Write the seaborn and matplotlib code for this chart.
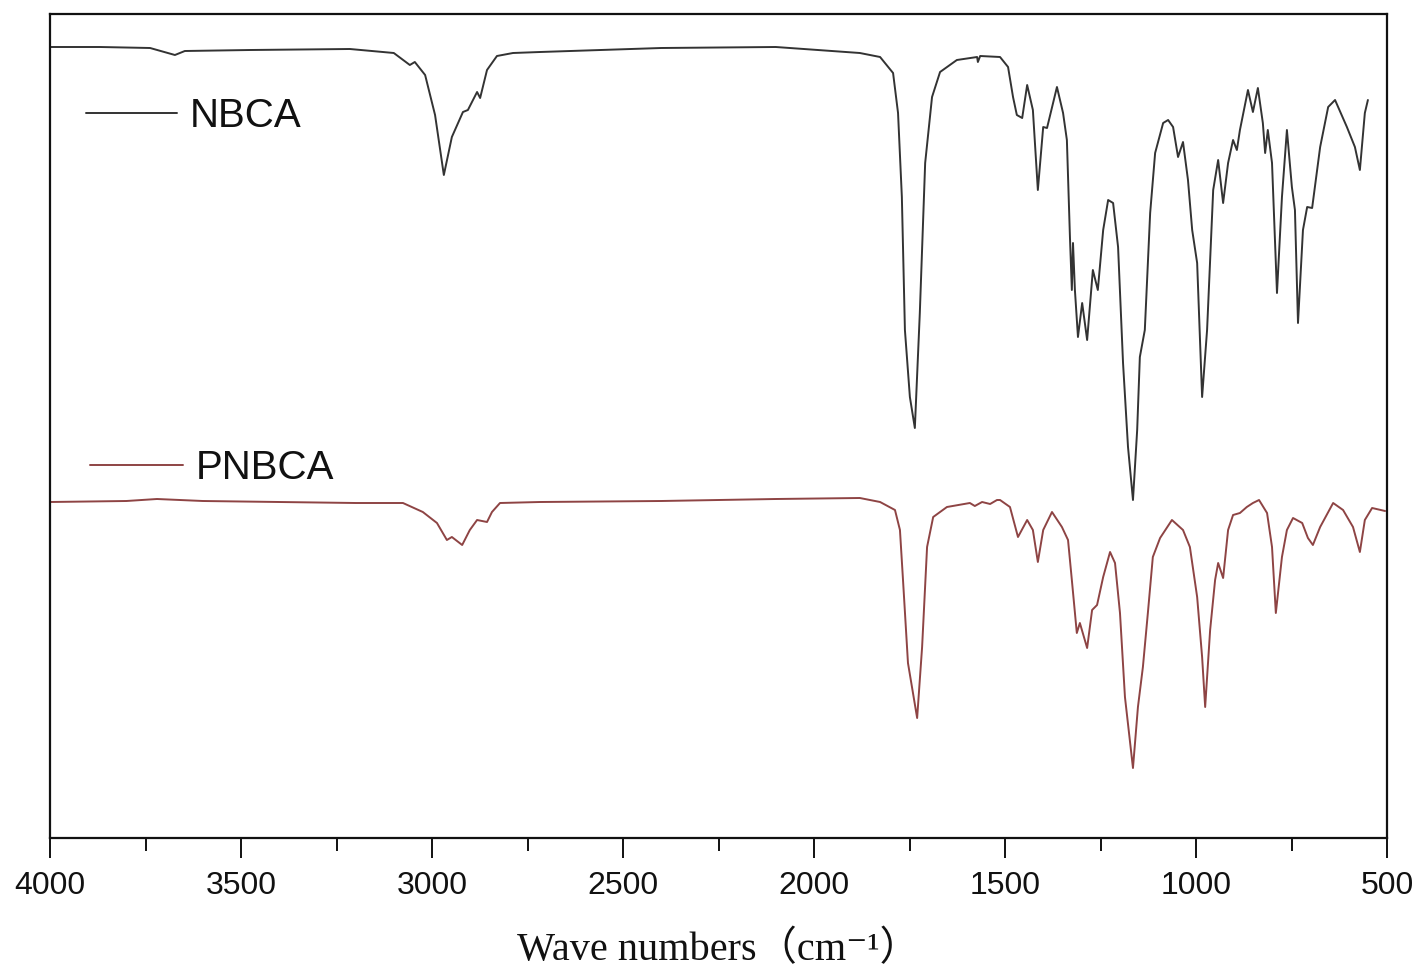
import numpy as np
import pandas as pd
import seaborn as sns
import matplotlib.pyplot as plt

# FTIR spectra (wave number in cm-1, relative transmittance in arbitrary units)
nbca_wn = [4000, 3869, 3738, 3673, 3647, 3476, 3215, 3100, 3058, 3045, 3018, 2992, 2969, 2948,
           2919, 2906, 2882, 2874, 2856, 2830, 2788, 2717, 2400, 2100, 1880, 1827, 1793, 1780,
           1770, 1762, 1749, 1736, 1723, 1709, 1691, 1670, 1626, 1573, 1571, 1565, 1513, 1492,
           1479, 1469, 1455, 1442, 1427, 1414, 1400, 1390, 1364, 1348, 1338, 1330, 1325, 1322,
           1317, 1309, 1298, 1285, 1270, 1257, 1243, 1230, 1217, 1204, 1191, 1178, 1165, 1154,
           1147, 1134, 1120, 1107, 1086, 1073, 1060, 1047, 1034, 1021, 1010, 997, 984, 971, 955,
           942, 929, 916, 903, 893, 885, 864, 851, 838, 825, 819, 812, 801, 788, 775, 762, 749,
           741, 733, 720, 709, 696, 675, 654, 636, 605, 584, 571, 558, 550]
nbca_t = [791, 791, 790, 783, 787, 788, 789, 785, 773, 776, 763, 723, 663, 701,
          726, 728, 746, 740, 768, 782, 785, 786, 790, 791, 785, 781, 765, 725,
          641, 508, 441, 410, 525, 675, 741, 766, 778, 781, 776, 782, 781, 771,
          741, 723, 720, 753, 728, 648, 711, 710, 751, 725, 698, 601, 548, 595,
          548, 501, 535, 498, 568, 548, 608, 638, 635, 591, 475, 391, 338, 408,
          481, 508, 625, 685, 715, 718, 711, 681, 696, 658, 608, 575, 441, 508, 648,
          678, 635, 675, 698, 688, 708, 748, 726, 750, 715, 685, 708, 675, 545, 641, 708, 651,
          628, 515, 608, 631, 630, 691, 731, 738, 711, 691, 668, 725, 738]

pnbca_wn = [4000, 3800, 3720, 3600, 3400, 3200, 3076, 3024, 2987, 2961, 2948, 2921, 2901, 2882,
            2856, 2843, 2822, 2717, 2400, 2100, 1880, 1827, 1788, 1775, 1767, 1754, 1730, 1717,
            1704, 1688, 1652, 1592, 1579, 1560, 1539, 1521, 1513, 1487, 1466, 1442, 1427, 1414,
            1400, 1377, 1351, 1335, 1325, 1312, 1304, 1285, 1272, 1259, 1243, 1225, 1212, 1199,
            1186, 1165, 1152, 1139, 1126, 1113, 1094, 1063, 1034, 1016, 997, 984, 976, 963, 950,
            942, 929, 916, 903, 885, 867, 851, 835, 814, 801, 791, 775, 762, 746, 722, 707, 694,
            675, 641, 615, 589, 571, 558, 539, 505]
pnbca_t = [336, 337, 339, 337, 336, 335, 335, 326, 315, 298, 301, 293, 308, 318,
           316, 326, 335, 336, 337, 339, 340, 336, 328, 308, 258, 175, 120, 191,
           291, 321, 331, 335, 332, 336, 334, 338, 338, 331, 301, 318, 308, 276,
           308, 326, 311, 298, 258, 205, 215, 190, 228, 233, 261, 286, 275, 225,
           141, 70, 131, 171, 225, 281, 300, 318, 308, 291, 241, 181, 131, 208, 258,
           275, 260, 308, 323, 325, 331, 335, 338, 325, 291, 225, 281, 308, 320, 315, 300, 293,
           311, 335, 328, 311, 286, 318, 330, 327]

nbca = pd.DataFrame({"wn": nbca_wn, "t": nbca_t})
pnbca = pd.DataFrame({"wn": pnbca_wn, "t": pnbca_t})

sns.set_style("ticks")
plt.rcParams['font.family'] = ['Liberation Sans', 'DejaVu Sans']

fig = plt.figure(figsize=(14.19, 9.76), dpi=100)
ax = fig.add_axes([50 / 1419, 1 - 838 / 976, 1337 / 1419, 824 / 976])

sns.lineplot(data=nbca, x="wn", y="t", ax=ax, color="#333333", linewidth=1.4,
             estimator=None, label="NBCA")
sns.lineplot(data=pnbca, x="wn", y="t", ax=ax, color="#8e4444", linewidth=1.4,
             estimator=None, label="PNBCA")

ax.set_xlim(4000, 500)
ax.set_ylim(0, 824)
ax.set_xticks(np.arange(4000, 499, -500))
ax.set_xticks(np.arange(3750, 500, -500), minor=True)
ax.set_yticks([])
ax.set_ylabel("")
ax.tick_params(axis="x", which="major", direction="out", length=14.5, width=1.4,
               labelsize=23, pad=9, colors="#111111")
ax.tick_params(axis="x", which="minor", direction="out", length=9.5, width=1.4,
               colors="#111111")
for s in ax.spines.values():
    s.set_visible(True)
    s.set_linewidth(1.6)
    s.set_color("#111111")

ax.set_xlabel("Wave numbers（cm⁻¹）", fontsize=29, labelpad=22, color="#111111",
              family=['Liberation Serif', 'DejaVu Serif', 'Noto Sans CJK SC'])

# two separate legend entries placed beside the curves
handles, labels = ax.get_legend_handles_labels()
ax.get_legend().remove()
leg1 = ax.legend([handles[0]], [labels[0]], loc="center left", bbox_to_anchor=(0.027, 0.876),
                 frameon=False, fontsize=29, handlelength=2.25, handletextpad=0.32,
                 borderpad=0, borderaxespad=0, labelcolor="#111111")
ax.add_artist(leg1)
ax.legend([handles[1]], [labels[1]], loc="center left", bbox_to_anchor=(0.030, 0.449),
          frameon=False, fontsize=29, handlelength=2.3, handletextpad=0.32,
          borderpad=0, borderaxespad=0, labelcolor="#111111")

fig.savefig("out.png", dpi=100)
